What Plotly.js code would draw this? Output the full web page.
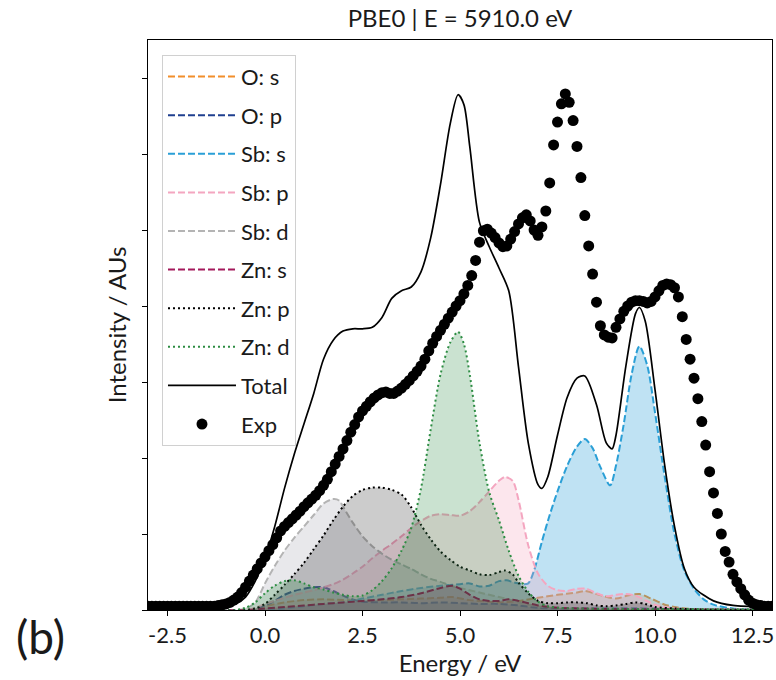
<!DOCTYPE html>
<html>
<head>
<meta charset="utf-8">
<script src="https://cdn.plot.ly/plotly-3.0.1.min.js"></script>
<style>html,body{margin:0;padding:0;background:#fff;}#chart{width:776px;height:680px;}</style>
</head>
<body>
<div id="chart"></div>
<script>
// ---- data ----
const tickVals = [-2.5, 0, 2.5, 5, 7.5, 10, 12.5];
const tickText = ['-2.5', '0.0', '2.5', '5.0', '7.5', '10.0', '12.5'];

const osE = [-3, -1, -0.5, -0.25, 0, 0.5, 1.0, 1.5, 2.0, 2.5, 3.0, 3.5, 4.0, 4.5, 4.8, 5.25, 5.75, 6.0, 6.5, 7.0, 7.5, 8.0, 8.2, 8.5, 9.0, 9.3, 9.6, 9.9, 10.25, 10.5, 11, 13];
const osI = [0, 0, 0, 0.02, 0.05, 0.1, 0.13, 0.14, 0.13, 0.12, 0.13, 0.14, 0.15, 0.16, 0.17, 0.13, 0.11, 0.1, 0.12, 0.16, 0.2, 0.23, 0.25, 0.21, 0.15, 0.19, 0.21, 0.15, 0.07, 0.04, 0.01, 0];

const opE = [-3, -1, -0.5, -0.25, 0, 0.25, 0.5, 0.75, 1.0, 1.25, 1.5, 1.75, 2.0, 2.25, 2.5, 3.0, 3.5, 4.0, 4.5, 5.0, 5.5, 6.0, 6.5, 7.0, 7.5, 8.5, 9.5, 10.5, 11.5, 13];
const opI = [0, 0, 0, 0.02, 0.06, 0.12, 0.2, 0.25, 0.28, 0.3, 0.3, 0.25, 0.19, 0.14, 0.11, 0.1, 0.1, 0.09, 0.1, 0.09, 0.08, 0.08, 0.06, 0.03, 0.02, 0.02, 0.02, 0.01, 0, 0];

const sbsE = [-3, 0, 0.5, 1.0, 1.5, 2.0, 2.5, 3.0, 3.5, 4.0, 4.5, 5.0, 5.25, 5.5, 5.75, 6.0, 6.2, 6.4, 6.6, 6.75, 6.9, 7.1, 7.3, 7.5, 7.75, 8.0, 8.2, 8.4, 8.6, 8.85, 9.0, 9.2, 9.4, 9.6, 9.8, 10.0, 10.25, 10.5, 10.75, 11.0, 11.25, 11.5, 12, 13];
const sbsI = [0, 0, 0.02, 0.05, 0.08, 0.1, 0.15, 0.2, 0.25, 0.29, 0.32, 0.34, 0.35, 0.31, 0.32, 0.38, 0.39, 0.36, 0.34, 0.35, 0.52, 0.9, 1.25, 1.56, 1.9, 2.15, 2.25, 2.13, 1.88, 1.64, 1.9, 2.45, 3.1, 3.47, 3.22, 2.6, 1.75, 1.0, 0.52, 0.28, 0.14, 0.07, 0.02, 0];

const sbpE = [-3, -0.5, -0.25, 0, 0.25, 0.5, 0.75, 1.0, 1.25, 1.5, 1.75, 2.0, 2.25, 2.5, 2.75, 3.0, 3.25, 3.5, 3.75, 4.0, 4.25, 4.5, 4.75, 5.0, 5.25, 5.5, 5.75, 6.0, 6.15, 6.35, 6.5, 6.75, 7.0, 7.25, 7.5, 7.75, 8.0, 8.25, 8.5, 8.75, 9.0, 9.25, 9.5, 9.75, 10.0, 10.5, 11, 13];
const sbpI = [0, 0, 0.03, 0.08, 0.12, 0.16, 0.2, 0.23, 0.26, 0.3, 0.34, 0.4, 0.48, 0.57, 0.68, 0.78, 0.87, 0.97, 1.08, 1.17, 1.24, 1.26, 1.25, 1.24, 1.3, 1.42, 1.56, 1.7, 1.75, 1.7, 1.45, 0.85, 0.48, 0.32, 0.26, 0.25, 0.28, 0.28, 0.22, 0.18, 0.2, 0.21, 0.19, 0.13, 0.07, 0.02, 0.01, 0];

const sbdE = [-3, -0.75, -0.5, -0.25, 0, 0.25, 0.5, 0.75, 1.0, 1.25, 1.5, 1.75, 1.9, 2.0, 2.25, 2.5, 2.75, 3.0, 3.25, 3.5, 3.75, 4.0, 4.25, 4.5, 4.75, 5.0, 5.25, 5.5, 5.75, 6.0, 6.25, 6.5, 6.75, 7.0, 7.5, 8, 13];
const sbdI = [0, 0, 0.02, 0.1, 0.35, 0.58, 0.78, 0.95, 1.1, 1.25, 1.4, 1.46, 1.44, 1.36, 1.15, 0.97, 0.84, 0.74, 0.66, 0.6, 0.54, 0.47, 0.41, 0.37, 0.32, 0.29, 0.26, 0.23, 0.2, 0.17, 0.14, 0.1, 0.07, 0.05, 0.03, 0.02, 0.01];

const znsE = [-3, -0.5, 0, 0.5, 1.0, 1.5, 2.0, 2.5, 3.0, 3.5, 4.0, 4.5, 4.8, 5.0, 5.25, 5.5, 5.75, 6.0, 6.25, 6.5, 6.75, 7.0, 7.5, 8, 9, 13];
const znsI = [0, 0, 0.02, 0.04, 0.06, 0.08, 0.1, 0.12, 0.14, 0.17, 0.22, 0.29, 0.32, 0.28, 0.2, 0.14, 0.12, 0.12, 0.14, 0.12, 0.09, 0.06, 0.03, 0.02, 0.01, 0];

const znpE = [-3, -0.5, -0.25, 0, 0.25, 0.5, 0.75, 1.0, 1.25, 1.5, 1.75, 2.0, 2.25, 2.5, 2.75, 3.0, 3.25, 3.5, 3.75, 4.0, 4.25, 4.5, 4.75, 5.0, 5.25, 5.5, 5.75, 6.0, 6.15, 6.35, 6.5, 6.75, 7.0, 7.25, 7.5, 7.75, 8.0, 8.25, 8.5, 8.75, 9.0, 9.25, 9.5, 9.75, 10.0, 10.5, 11, 13];
const znpI = [0, 0, 0.02, 0.08, 0.2, 0.33, 0.47, 0.62, 0.8, 0.98, 1.18, 1.36, 1.5, 1.58, 1.61, 1.61, 1.58, 1.52, 1.35, 1.12, 0.93, 0.77, 0.66, 0.57, 0.52, 0.47, 0.46, 0.5, 0.52, 0.47, 0.36, 0.22, 0.12, 0.09, 0.09, 0.1, 0.1, 0.09, 0.06, 0.05, 0.06, 0.08, 0.1, 0.08, 0.04, 0.02, 0.01, 0];

const zndE = [-3, -0.75, -0.5, -0.25, 0, 0.25, 0.5, 0.75, 1.0, 1.25, 1.5, 1.75, 2.0, 2.25, 2.5, 2.75, 3.0, 3.25, 3.5, 3.75, 4.0, 4.25, 4.5, 4.75, 4.95, 5.1, 5.25, 5.5, 5.75, 6.0, 6.25, 6.5, 6.75, 7.0, 7.25, 7.5, 8, 13];
const zndI = [0, 0, 0.03, 0.1, 0.22, 0.32, 0.38, 0.39, 0.35, 0.3, 0.27, 0.23, 0.2, 0.18, 0.19, 0.26, 0.38, 0.55, 0.78, 1.08, 1.6, 2.38, 3.1, 3.52, 3.66, 3.5, 3.1, 2.2, 1.55, 1.18, 0.78, 0.45, 0.24, 0.11, 0.05, 0.03, 0.02, 0.01];

const totE = [-3, -1.5, -1.0, -0.75, -0.5, -0.25, 0, 0.25, 0.5, 0.75, 1.0, 1.25, 1.5, 1.75, 2.0, 2.25, 2.5, 2.75, 3.0, 3.25, 3.5, 3.75, 4.0, 4.25, 4.5, 4.75, 4.95, 5.1, 5.25, 5.5, 5.75, 6.0, 6.25, 6.5, 6.75, 7.0, 7.1, 7.25, 7.5, 7.75, 8.0, 8.2, 8.5, 8.75, 8.9, 9.0, 9.25, 9.5, 9.6, 9.75, 10.0, 10.25, 10.5, 10.75, 11.0, 11.5, 12, 13];
const totI = [0.02, 0.03, 0.05, 0.08, 0.17, 0.38, 0.68, 1.1, 1.6, 2.05, 2.45, 2.85, 3.3, 3.55, 3.67, 3.7, 3.7, 3.72, 3.85, 4.1, 4.2, 4.25, 4.45, 4.9, 5.6, 6.4, 6.78, 6.65, 6.1, 5.1, 4.78, 4.5, 4.2, 3.2, 2.2, 1.65, 1.6, 1.75, 2.3, 2.8, 3.05, 3.08, 2.7, 2.2, 2.12, 2.3, 3.2, 3.9, 3.98, 3.8, 2.9, 1.9, 1.1, 0.55, 0.3, 0.12, 0.06, 0.04];

const expE = [-3.0,-2.9,-2.8,-2.7,-2.6,-2.5,-2.4,-2.3,-2.2,-2.1,-2.0,-1.9,-1.8,-1.7,-1.6,-1.5,-1.4,-1.3,-1.2,-1.1,-1.0,-0.9,-0.8,-0.7,-0.6,-0.5,-0.4,-0.3,-0.2,-0.1,
  0.0,0.1,0.2,0.3,0.4,0.5,0.6,0.7,0.8,0.9,1.0,1.1,1.2,1.3,1.4,1.5,1.6,1.7,1.8,1.9,2.0,2.1,2.2,2.3,2.4,2.5,2.6,2.7,2.8,2.9,
  3.0,3.1,3.2,3.3,3.4,3.5,3.6,3.7,3.8,3.9,4.0,4.1,4.2,4.3,4.4,4.5,4.6,4.7,4.8,4.9,5.0,5.1,5.2,5.3,5.4,5.5,5.6,5.7,5.8,5.9,
  6.0,6.1,6.2,6.3,6.4,6.5,6.6,6.7,6.8,6.9,7.0,7.1,7.2,7.3,7.4,7.5,7.6,7.7,7.8,7.9,8.0,8.1,8.2,8.3,8.4,8.5,8.6,8.7,8.8,8.9,
  9.0,9.1,9.2,9.3,9.4,9.5,9.6,9.7,9.8,9.9,10.0,10.1,10.2,10.3,10.4,10.5,10.6,10.7,10.8,10.9,11.0,11.1,11.2,11.3,11.4,11.5,11.6,11.7,11.8,11.9,
  12.0,12.1,12.2,12.3,12.4,12.5,12.6,12.7,12.8,12.9,13.0];
const expI = [0.05,0.05,0.05,0.05,0.05,0.05,0.05,0.05,0.05,0.05,0.05,0.05,0.05,0.05,0.05,0.05,0.05,0.05,0.06,0.07,0.08,0.1,0.13,0.17,0.23,0.3,0.38,0.46,0.54,0.62,
  0.7,0.78,0.86,0.95,1.04,1.1,1.15,1.2,1.25,1.3,1.36,1.41,1.46,1.51,1.57,1.64,1.72,1.82,1.92,2.02,2.12,2.23,2.34,2.44,2.54,2.62,2.68,2.74,2.79,2.83,
  2.86,2.87,2.85,2.85,2.88,2.92,2.97,3.02,3.08,3.14,3.21,3.3,3.41,3.51,3.6,3.68,3.76,3.84,3.92,4.0,4.07,4.16,4.27,4.4,4.6,4.84,4.99,5.01,4.96,4.9,
  4.83,4.78,4.79,4.88,4.98,5.08,5.16,5.2,5.12,5.0,4.93,5.04,5.25,5.62,6.12,6.42,6.66,6.79,6.68,6.44,6.1,5.69,5.19,4.79,4.42,4.05,3.74,3.62,3.59,3.58,
  3.72,3.83,3.93,4.0,4.05,4.07,4.07,4.06,4.04,4.06,4.12,4.2,4.27,4.29,4.28,4.24,4.12,3.86,3.56,3.3,3.05,2.78,2.48,2.17,1.82,1.54,1.27,1.0,0.77,0.63,
  0.47,0.37,0.28,0.2,0.13,0.09,0.07,0.06,0.05,0.05,0.05];

// ---- styles ----
const FONT = 'Lato, "Open Sans", sans-serif';
const TXT = '#1a1a1a';
const series = [
  {name: 'O: s',  x: osE,  y: osI,  color: '#f28e2b', fill: 'rgba(242,142,43,0.25)', dash: '7px,3px'},
  {name: 'O: p',  x: opE,  y: opI,  color: '#1f3f8f', fill: 'rgba(31,63,143,0.25)',  dash: '7px,3px'},
  {name: 'Sb: s', x: sbsE, y: sbsI, color: '#2a9fd6', fill: 'rgba(42,159,214,0.30)', dash: '7px,3px'},
  {name: 'Sb: p', x: sbpE, y: sbpI, color: '#f4a6c0', fill: 'rgba(244,166,192,0.28)', dash: '7px,3px'},
  {name: 'Sb: d', x: sbdE, y: sbdI, color: '#b4b4b4', fill: 'rgba(180,180,190,0.30)', dash: '7px,3px'},
  {name: 'Zn: s', x: znsE, y: znsI, color: '#a3195b', fill: 'rgba(163,25,91,0.22)',  dash: '7px,3px'},
  {name: 'Zn: p', x: znpE, y: znpI, color: '#000000', fill: 'rgba(0,0,0,0.20)',      dash: '2px,3px'},
  {name: 'Zn: d', x: zndE, y: zndI, color: '#2c8c42', fill: 'rgba(44,140,66,0.25)',  dash: '2px,3px'}
];

const traces = [];
series.forEach((s, i) => {
  traces.push({
    x: s.x, y: s.y, type: 'scatter', mode: 'lines', fill: 'tozeroy',
    fillcolor: s.fill, line: {width: 0, shape: 'spline', smoothing: 0.8},
    showlegend: false, hoverinfo: 'skip', legendgroup: 'g' + i
  });
  traces.push({
    x: s.x, y: s.y, type: 'scatter', mode: 'lines', name: s.name,
    line: {color: s.color, width: 2, dash: s.dash, shape: 'spline', smoothing: 0.8},
    legendgroup: 'g' + i
  });
});
traces.push({
  x: totE, y: totI, type: 'scatter', mode: 'lines', name: 'Total',
  line: {color: '#000', width: 1.7, shape: 'spline', smoothing: 0.8}, legendgroup: 'gt'
});
traces.push({
  x: expE, y: expI, type: 'scatter', mode: 'markers', name: 'Exp',
  marker: {color: '#000', size: 11}, legendgroup: 'ge'
});

const layout = {
  width: 776, height: 680,
  margin: {l: 148, r: 4, t: 40, b: 70},
  paper_bgcolor: '#fff', plot_bgcolor: '#fff',
  font: {family: FONT, color: TXT, size: 22},
  title: {text: 'PBE0 | E = 5910.0 eV', font: {family: FONT, size: 24, color: TXT},
          x: 0.5, xref: 'paper', xanchor: 'center', y: 0.973, yref: 'container', yanchor: 'middle'},
  xaxis: {
    range: [-3, 13], tickvals: tickVals, ticktext: tickText,
    ticks: 'outside', ticklen: 5, tickwidth: 1, tickcolor: '#000',
    showline: true, mirror: true, linecolor: '#000', linewidth: 1.2,
    showgrid: false, zeroline: false,
    tickfont: {family: FONT, size: 22, color: TXT},
    title: {text: 'Energy / eV', font: {family: FONT, size: 24, color: TXT}, standoff: 4}
  },
  yaxis: {
    range: [0, 7.5], dtick: 1, tick0: 0, showticklabels: false,
    ticks: 'outside', ticklen: 5, tickwidth: 1, tickcolor: '#000',
    showline: true, mirror: true, linecolor: '#000', linewidth: 1.2,
    showgrid: false, zeroline: false,
    title: {text: 'Intensity / AUs', font: {family: FONT, size: 24, color: TXT}, standoff: 8}
  },
  legend: {
    x: 0.0224, y: 0.974, xanchor: 'left', yanchor: 'top',
    bgcolor: 'rgba(255,255,255,0.85)', bordercolor: '#d0d0d0', borderwidth: 1,
    font: {family: FONT, size: 22, color: TXT},
    traceorder: 'grouped', tracegroupgap: 7, itemwidth: 68
  },
  annotations: [{
    text: '(b)', xref: 'paper', yref: 'paper', x: -0.173, y: -0.047,
    xanchor: 'center', yanchor: 'middle', showarrow: false,
    font: {family: FONT, size: 46, color: TXT}
  }]
};

Plotly.newPlot('chart', traces, layout, {displayModeBar: false, staticPlot: true});
</script>
</body>
</html>
